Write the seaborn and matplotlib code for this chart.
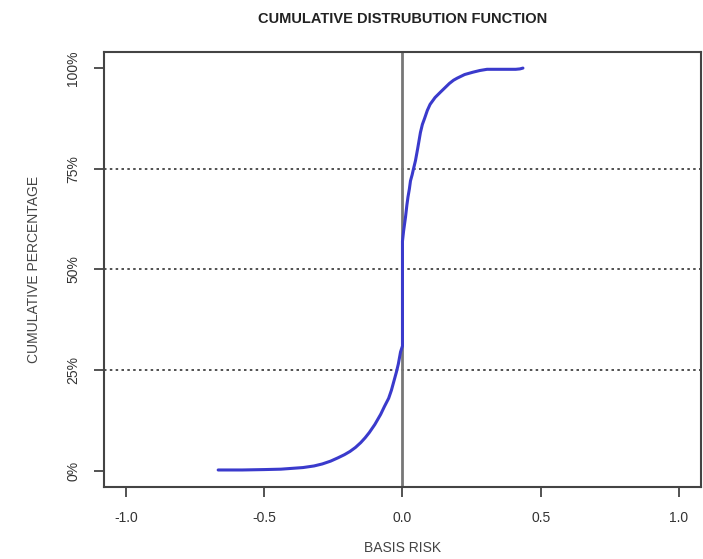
import matplotlib
matplotlib.use("Agg")
import matplotlib.pyplot as plt
import seaborn as sns
import pandas as pd
from matplotlib.ticker import FuncFormatter

sns.set_theme(style="white")
plt.rcParams['font.family'] = ['Liberation Sans', 'DejaVu Sans']

basis_risk = [-0.667, -0.58, -0.5, -0.44, -0.40, -0.36, -0.32, -0.29, -0.26, -0.234, -0.21,
              -0.19, -0.17, -0.151, -0.135, -0.12, -0.10, -0.079, -0.065, -0.05, -0.04,
              -0.032, -0.022, -0.015, -0.007, 0.0, 0.0, 0.004, 0.008, 0.011, 0.016, 0.02,
              0.025, 0.029, 0.035, 0.04, 0.047, 0.055, 0.065, 0.072, 0.08, 0.09, 0.10,
              0.118, 0.137, 0.155, 0.17, 0.185, 0.198, 0.225, 0.256, 0.28, 0.306, 0.36,
              0.41, 0.425, 0.436]
cum_pct = [0.002, 0.002, 0.003, 0.004, 0.006, 0.008, 0.012, 0.017, 0.024, 0.032, 0.040,
           0.048, 0.058, 0.070, 0.082, 0.095, 0.115, 0.140, 0.160, 0.180, 0.200,
           0.220, 0.245, 0.265, 0.295, 0.310, 0.570, 0.595, 0.615, 0.630, 0.660, 0.680,
           0.700, 0.720, 0.735, 0.750, 0.770, 0.800, 0.840, 0.860, 0.875, 0.895, 0.910,
           0.927, 0.940, 0.952, 0.962, 0.970, 0.975, 0.984, 0.990, 0.994, 0.997, 0.997,
           0.997, 0.998, 1.0]
x_ticks = [-1.0, -0.5, 0.0, 0.5, 1.0]
y_ticks = [0.0, 0.25, 0.5, 0.75, 1.0]
ref_levels = [0.25, 0.5, 0.75]

df = pd.DataFrame({"x": basis_risk, "y": cum_pct})

fig = plt.figure(figsize=(7.03, 5.59), dpi=100)
ax = fig.add_axes([0.148, 0.129, 0.849, 0.778])

for lv in ref_levels:
    ax.axhline(lv, color="#333333", lw=1.2, ls=(0, (1.5, 2)), zorder=1)
ax.axvline(0, color="#777777", lw=2.0, zorder=1)

sns.lineplot(data=df, x="x", y="y", sort=False, estimator=None,
             color="#3a3acc", lw=2.2, ax=ax, zorder=3)

ax.set_xlim(-1.08, 1.08)
ax.set_ylim(-0.04, 1.04)
ax.set_xticks(x_ticks)
ax.set_xticklabels(["-1.0", "-0.5", "0.0", "0.5", "1.0"])
ax.set_yticks(y_ticks)
ax.yaxis.set_major_formatter(FuncFormatter(lambda v, p: f"{int(round(v*100))}%"))
for lbl in ax.get_yticklabels():
    lbl.set_rotation(90)
    lbl.set_va("center")

ax.tick_params(axis="both", direction="out", length=7, width=1.3, color="#444444",
               labelsize=10, labelcolor="#333333", bottom=True, left=True)
ax.tick_params(axis="x", pad=10)
ax.tick_params(axis="y", pad=10)
for s in ax.spines.values():
    s.set_color("#444444")
    s.set_linewidth(1.5)

ax.set_xlabel("BASIS RISK", fontsize=10, color="#444444", labelpad=12)
ax.set_ylabel("CUMULATIVE PERCENTAGE", fontsize=10, color="#444444", labelpad=18)
fig.suptitle("CUMULATIVE DISTRUBUTION FUNCTION", x=0.573, y=0.978, fontsize=10.5,
             fontweight="bold", color="#222222")

fig.savefig("out.png", dpi=100, facecolor="white")
